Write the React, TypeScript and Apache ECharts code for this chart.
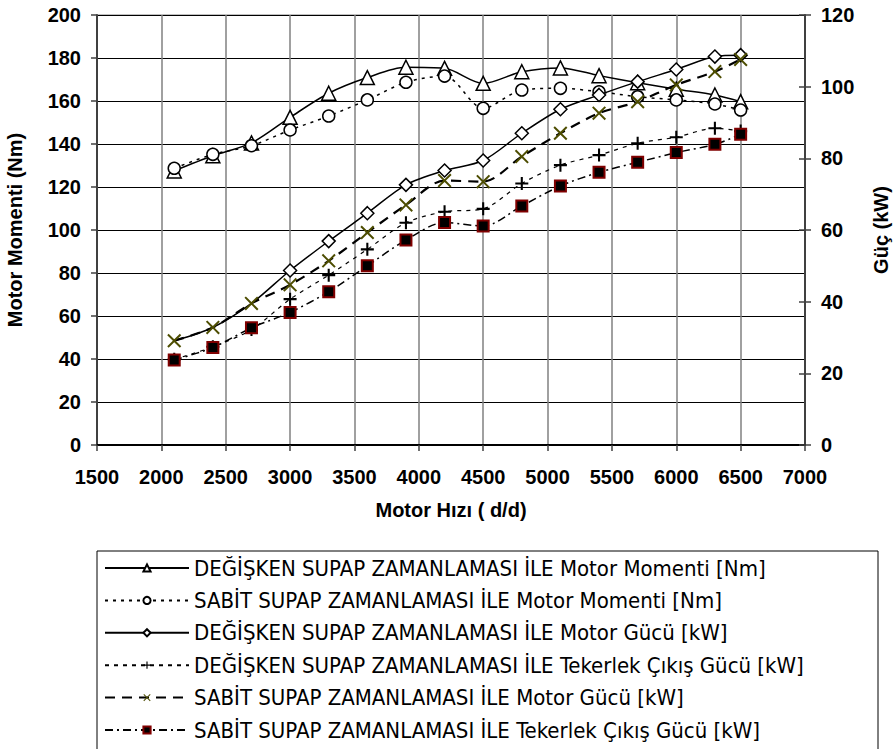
import React, { useEffect, useRef } from "react";
import * as echarts from "echarts";

const rpm = [2100, 2400, 2700, 3000, 3300, 3600, 3900, 4200, 4500, 4800, 5100, 5400, 5700, 6000, 6300, 6500];

const torqueVariable = [127.5, 134.5, 140.5, 152.4, 163.6, 170.9, 175.7, 175.2, 168.2, 173.6, 175.4, 171.8, 168.5, 165.5, 162.8, 159.7];
const torqueFixed = [128.7, 135.2, 139.2, 146.5, 153.0, 160.5, 168.7, 171.6, 156.6, 165.1, 165.9, 164.3, 162.0, 160.5, 158.6, 155.8];
const powerVariable = [29.1, 32.8, 39.5, 48.7, 56.9, 64.7, 72.6, 76.6, 79.4, 87.0, 93.7, 97.7, 101.4, 104.8, 108.4, 108.8];
const wheelVariable = [23.9, 27.4, 32.2, 40.7, 47.4, 54.6, 62.0, 65.1, 65.9, 73.0, 78.1, 80.9, 84.2, 85.9, 88.4, 87.6];
const powerFixed = [29.1, 32.8, 39.5, 44.7, 51.4, 59.3, 67.0, 73.8, 73.5, 80.5, 87.0, 92.6, 95.8, 100.5, 104.2, 107.6];
const wheelFixed = [23.7, 27.2, 32.7, 37.0, 42.8, 50.0, 57.2, 62.1, 61.1, 66.7, 72.3, 76.1, 78.9, 81.6, 83.9, 86.7];

const seriesNames = [
  "DEĞİŞKEN SUPAP ZAMANLAMASI İLE Motor Momenti [Nm]",
  "SABİT SUPAP ZAMANLAMASI İLE Motor Momenti [Nm]",
  "DEĞİŞKEN SUPAP ZAMANLAMASI İLE Motor Gücü [kW]",
  "DEĞİŞKEN SUPAP ZAMANLAMASI İLE Tekerlek Çıkış Gücü [kW]",
  "SABİT SUPAP ZAMANLAMASI İLE Motor Gücü [kW]",
  "SABİT SUPAP ZAMANLAMASI İLE Tekerlek Çıkış Gücü [kW]",
];

const xName = "Motor Hızı ( d/d)";
const yLeftName = "Motor Momenti (Nm)";
const yRightName = "Güç (kW)";

const PLUS = "path://M4.2,0h1.6v4.2h4.2v1.6h-4.2v4.2h-1.6v-4.2h-4.2v-1.6h4.2z";
const CROSS = "path://M0,1 L1,0 L5,4 L9,0 L10,1 L6,5 L10,9 L9,10 L5,6 L1,10 L0,9 L4,5 Z";

const pair = (ys: number[]) => rpm.map((x, i) => [x, ys[i]]);

const H = 749;

export default function App() {
  const ref = useRef<HTMLDivElement>(null);
  useEffect(() => {
    document.body.style.margin = "0";
    document.body.style.overflow = "hidden";
    const chart = echarts.init(ref.current!, undefined, { renderer: "svg" });
    const labelFont = { fontFamily: "'Liberation Sans', Arial, sans-serif", fontWeight: "bold" as const, fontSize: 20, color: "#000" };
    const nameFont = { fontFamily: "'Liberation Sans', Arial, sans-serif", fontWeight: "bold" as const, fontSize: 20, color: "#000" };
    const plain = (v: number) => String(v);
    const diamondPts = pair(powerVariable).map((p, i) => (i < 3 ? { value: p, symbol: "none" } : p));
    chart.setOption({
      animation: false,
      backgroundColor: "#fff",
      grid: { left: 97, right: 88, top: 15, bottom: H - 445, show: true, borderColor: "#808080", borderWidth: 1, containLabel: false, outerBoundsMode: "none" },
      xAxis: {
        type: "value",
        min: 1500,
        max: 7000,
        interval: 500,
        name: xName,
        nameLocation: "middle",
        nameGap: 55,
        nameTextStyle: nameFont,
        axisLine: { lineStyle: { color: "#000", width: 2 } },
        axisTick: { show: true, length: 6, lineStyle: { color: "#404040", width: 1.5 } },
        axisLabel: { ...labelFont, margin: 22, formatter: plain },
        splitLine: { show: true, lineStyle: { color: "#808080", width: 1.5 } },
      },
      yAxis: [
        {
          type: "value",
          min: 0,
          max: 200,
          interval: 20,
          position: "left",
          name: yLeftName,
          nameLocation: "middle",
          nameGap: 72,
          nameRotate: 90,
          nameTextStyle: nameFont,
          axisLine: { show: true, lineStyle: { color: "#404040", width: 2 } },
          axisTick: { show: true, length: 6, lineStyle: { color: "#404040", width: 1.5 } },
          axisLabel: { ...labelFont, margin: 16, formatter: plain },
          splitLine: { show: true, lineStyle: { color: "#000", width: 1 } },
        },
        {
          type: "value",
          min: 0,
          max: 120,
          interval: 20,
          position: "right",
          name: yRightName,
          nameLocation: "middle",
          nameGap: 66,
          nameRotate: 90,
          nameTextStyle: nameFont,
          axisLine: { show: true, lineStyle: { color: "#404040", width: 2 } },
          axisTick: { show: true, length: 6, lineStyle: { color: "#404040", width: 1.5 } },
          axisLabel: { ...labelFont, margin: 16, formatter: plain },
          splitLine: { show: false },
        },
        {
          type: "value",
          min: 0,
          max: 120,
          interval: 20,
          position: "right",
          axisLine: { show: false },
          axisTick: { show: true, inside: true, length: 6, lineStyle: { color: "#404040", width: 1.5 } },
          axisLabel: { show: false },
          splitLine: { show: false },
        },
      ],
      legend: {
        orient: "vertical",
        left: 97,
        top: 551,
        height: 260,
        padding: [6, 10, 10, 7],
        itemWidth: 84,
        itemHeight: 9,
        itemGap: 10.4,
        textStyle: { fontFamily: "'Liberation Sans Narrow', 'Arial Narrow', 'DejaVu Sans Condensed', sans-serif", fontSize: 22, color: "#000", lineHeight: 22 },
        data: seriesNames,
      },
      graphic: [
        { type: "rect", shape: { x: 97, y: 551, width: 781, height: 260 }, style: { fill: "none", stroke: "#000", lineWidth: 1 }, silent: true },
      ],
      series: [
        {
          name: seriesNames[0],
          type: "line",
          yAxisIndex: 0,
          smooth: 0.3,
          data: pair(torqueVariable),
          symbol: "triangle",
          symbolSize: 14,
          lineStyle: { color: "#000", width: 1.5, type: "solid" },
          itemStyle: { color: "#fff", borderColor: "#000", borderWidth: 1.5 },
        },
        {
          name: seriesNames[1],
          type: "line",
          yAxisIndex: 0,
          smooth: 0.3,
          data: pair(torqueFixed),
          symbol: "circle",
          symbolSize: 12,
          lineStyle: { color: "#000", width: 1.5, type: [3, 5] },
          itemStyle: { color: "#fff", borderColor: "#000", borderWidth: 1.5 },
        },
        {
          name: seriesNames[2],
          type: "line",
          yAxisIndex: 1,
          smooth: 0.3,
          data: diamondPts,
          symbol: "diamond",
          symbolSize: 13,
          lineStyle: { color: "#000", width: 1.5, type: "solid" },
          itemStyle: { color: "#fff", borderColor: "#000", borderWidth: 1.5 },
        },
        {
          name: seriesNames[3],
          type: "line",
          yAxisIndex: 1,
          smooth: 0.3,
          data: pair(wheelVariable),
          symbol: PLUS,
          symbolSize: 13,
          lineStyle: { color: "#000", width: 1.2, type: [4, 5] },
          itemStyle: { color: "#000", borderWidth: 0 },
        },
        {
          name: seriesNames[4],
          type: "line",
          yAxisIndex: 1,
          smooth: 0.3,
          data: pair(powerFixed),
          symbol: CROSS,
          symbolSize: 14,
          lineStyle: { color: "#000", width: 2.2, type: [10, 7] },
          itemStyle: { color: "#4d4d00", borderWidth: 0 },
        },
        {
          name: seriesNames[5],
          type: "line",
          yAxisIndex: 1,
          smooth: 0.3,
          data: pair(wheelFixed),
          symbol: "rect",
          symbolSize: 11,
          lineStyle: { color: "#000", width: 1.5, type: [8, 4, 2, 4] },
          itemStyle: { color: "#000", borderColor: "#800000", borderWidth: 2 },
        },
      ],
    });
    return () => chart.dispose();
  }, []);
  return <div ref={ref} style={{ width: 893, height: H }} />;
}
